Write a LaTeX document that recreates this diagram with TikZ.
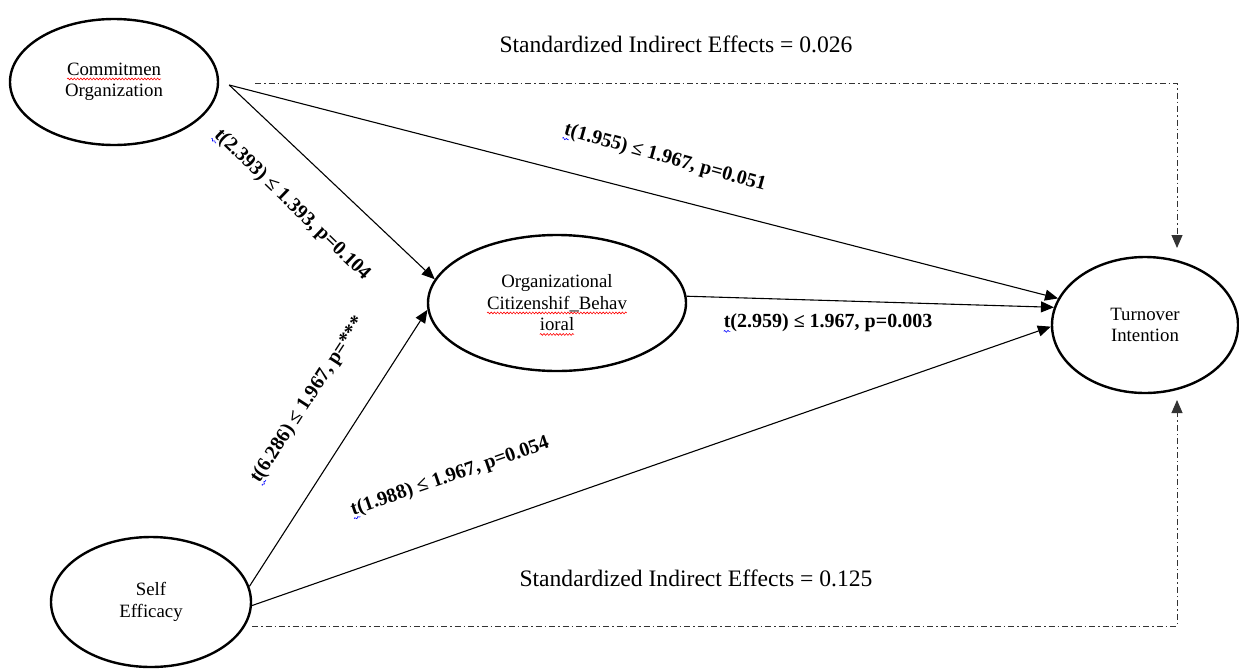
\documentclass[tikz,border=0pt]{standalone}
\usepackage{fontspec}
\setmainfont{Liberation Serif}
\usetikzlibrary{arrows.meta,shapes.geometric,decorations.pathmorphing}
\newlength\wavylen
\newcommand\wavy[2]{\settowidth\wavylen{#2}\rlap{\tikz[reset cm, baseline=0pt]{\useasboundingbox (0pt,0pt);
  \draw[#1, line width=0.6pt, decorate, decoration={snake, amplitude=0.9pt, segment length=3.2pt}]
   (0pt,-3.5pt) -- (\wavylen,-3.5pt);}}#2}
\tikzset{
  latent/.style={ellipse, draw, line width=2.4pt, inner sep=0pt, align=center,
    font=\fontsize{18.8}{21.5}\selectfont},
  path/.style={line width=1.1pt, -{Triangle[length=13pt,width=11pt]}},
  dashdot/.style={line width=1pt, black!80, dash pattern=on 6pt off 3pt on 1.5pt off 3pt,
    -{Triangle[length=13pt,width=11pt]}},
  est/.style={font=\fontsize{20}{22}\bfseries\selectfont, inner sep=0pt},
  ind/.style={font=\fontsize{23.6}{26}\selectfont, inner sep=0pt}
}
\begin{document}
\begin{tikzpicture}[x=1pt,y=-1pt]
\useasboundingbox (0,0) rectangle (1239,670);
\node[latent, minimum width=208pt, minimum height=126pt] (C) at (114,82) {\wavy{red}{Commitmen}\\Organization};
\node[latent, minimum width=258pt, minimum height=136pt] (O) at (557,303) {Organizational\\\wavy{red}{Citizenshif\_Behav}\\\wavy{red}{ioral}};
\node[latent, minimum width=186pt, minimum height=136pt] (T) at (1145,325) {Turnover\\Intention};
\node[latent, minimum width=200pt, minimum height=130pt] (S) at (151,602) {Self\\Efficacy};

\coordinate (cs) at ([shift={(10,3)}]C.east);
\coordinate (dtop) at (255,83);
\coordinate (dbot) at (252,626);
\coordinate (dtopend) at (1177,248);
\coordinate (dbotend) at (1177,400);

\draw[path] (cs) -- (O.169);
\draw[path] (cs) -- (T.163);
\draw[path] (O.3) -- (T.169);
\draw[path] (S.9) -- (O.183);
\draw[path] (S.-2) -- (T.181);

\draw[dashdot] (dtop) -| (dtopend);
\draw[dashdot] (dbot) -| (dbotend);

\node[ind] (i1) at (676,44) {Standardized Indirect Effects = 0.026};
\node[ind] (i2) at (696,578) {Standardized Indirect Effects = 0.125};

\node[est, rotate=-44] (l1) at (292,205) {\wavy{blue}{t}(2.393) ≤ 1.393, p=0.104};
\node[est, rotate=-15.5] (l2) at (665,158) {\wavy{blue}{t}(1.955) ≤ 1.967, p=0.051};
\node[est] (l3) at (828,323) {\wavy{blue}{t}(2.959) ≤ 1.967, p=0.003};
\node[est, rotate=57] (l4) at (308,400) {\wavy{blue}{t}(6.286) ≤ 1.967, p=***};
\node[est, rotate=19] (l5) at (450,477) {\wavy{blue}{t}(1.988) ≤ 1.967, p=0.054};
\end{tikzpicture}
\end{document}
